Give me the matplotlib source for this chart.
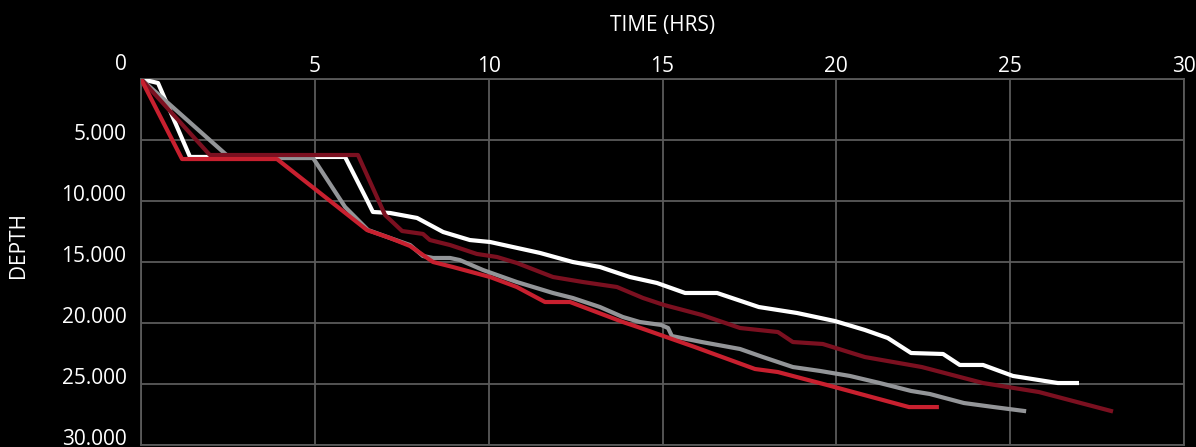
import matplotlib
matplotlib.use("Agg")
import matplotlib.pyplot as plt
from matplotlib.transforms import ScaledTranslation

# time (hrs) / depth readings per well
white_t = [0, 0.49, 1.41, 5.87, 6.50, 6.67, 7.16, 7.94, 8.69, 9.46, 10.04, 11.48, 12.42, 13.20,
           14.06, 14.84, 15.65, 16.57, 17.77, 18.87, 19.96, 20.82, 21.48, 22.15, 23.07, 23.55,
           24.22, 25.08, 26.37, 26.92]
white_d = [0, 330, 6390, 6390, 9920, 10900, 10980, 11390, 12540, 13200, 13360, 14260, 15000, 15410,
           16230, 16720, 17540, 17540, 18690, 19180, 19840, 20570, 21230, 22460, 22540, 23440,
           23440, 24340, 24920, 24920]

gray_t = [0, 2.56, 4.95, 5.87, 6.53, 7.16, 7.74, 8.11, 8.40, 8.89, 9.17, 9.84, 10.81, 11.85,
          12.42, 13.20, 13.86, 14.35, 14.96, 15.16, 15.27, 16.13, 17.23, 17.89, 18.75, 19.53,
          20.39, 21.25, 22.15, 22.69, 23.67, 24.53, 25.40]
gray_d = [0, 6480, 6480, 10490, 12380, 13030, 13610, 14510, 14670, 14670, 14840, 15660, 16640, 17540,
          17950, 18690, 19510, 19920, 20160, 20410, 21070, 21560, 22130, 22790, 23610, 23930,
          24340, 24920, 25570, 25820, 26560, 26890, 27210]

maroon_t = [0, 1.98, 6.24, 7.02, 7.51, 8.11, 8.31, 8.89, 9.66, 10.24, 10.81, 11.85, 12.71, 13.69,
            14.44, 15.04, 16.13, 17.23, 18.32, 18.75, 19.61, 20.82, 22.46, 24.22, 25.83, 27.90]
maroon_d = [0, 6230, 6230, 11150, 12460, 12700, 13200, 13610, 14340, 14590, 15080, 16230, 16640, 17050,
            17950, 18520, 19340, 20410, 20740, 21560, 21720, 22790, 23610, 24920, 25660, 27210]

red_t = [0, 1.18, 3.91, 6.50, 7.16, 7.74, 8.40, 8.97, 10.04, 10.81, 11.62, 12.34, 13.86, 14.29,
         15.93, 17.66, 18.32, 19.73, 22.09, 22.89]
red_d = [0, 6560, 6560, 12380, 13030, 13690, 15000, 15410, 16230, 17050, 18280, 18280, 19920, 20330,
         21970, 23770, 24020, 25080, 26890, 26890]

x_ticks = [0, 5, 10, 15, 20, 25, 30]
y_ticks = [0, 5000, 10000, 15000, 20000, 25000, 30000]
y_labels = ["0", "5.000", "10.000", "15.000", "20.000", "25.000", "30.000"]


def main():
    plt.rcParams['font.family'] = ['Open Sans', 'DejaVu Sans']
    fig = plt.figure(figsize=(11.96, 4.47), dpi=100, facecolor="black")
    ax = fig.add_axes([141 / 1196, 2 / 447, (1184 - 141) / 1196, (445 - 79) / 447])
    ax.set_facecolor("black")

    lw = 3.0
    ax.plot(white_t, white_d, color="#ffffff", lw=lw, zorder=3)
    ax.plot(gray_t, gray_d, color="#939598", lw=lw, zorder=4)
    ax.plot(maroon_t, maroon_d, color="#7b1020", lw=lw, zorder=5)
    ax.plot(red_t, red_d, color="#c8202f", lw=lw, zorder=6)

    ax.set_xlim(0, 30)
    ax.set_ylim(30000, 0)
    ax.set_xticks(x_ticks)
    ax.set_xticklabels(["" if t == 0 else str(t) for t in x_ticks])
    ax.set_yticks(y_ticks)
    ax.set_yticklabels(y_labels, va="baseline")

    ax.xaxis.tick_top()
    ax.xaxis.set_label_position("top")
    ax.tick_params(axis="x", length=0, pad=1.5, labelsize=15, colors="white")
    ax.tick_params(axis="y", length=0, pad=10.5, labelsize=15, colors="white")
    lab0 = ax.get_yticklabels()[0]
    lab0.set_transform(lab0.get_transform() + ScaledTranslation(0, 0.09, fig.dpi_scale_trans))

    ax.grid(True, color="#5a5a5a", lw=1.3, zorder=1)
    for s in ax.spines.values():
        s.set_color("#5a5a5a")
        s.set_linewidth(1.3)

    ax.set_xlabel("TIME (HRS)", color="white", fontsize=15, labelpad=18)
    fig.text(18 / 1196, 1 - 245 / 447, "DEPTH", color="white", fontsize=15,
             rotation=90, ha="center", va="center")

    fig.savefig("out.png", dpi=100, facecolor="black")
    plt.close(fig)


if __name__ == '__main__':
    main()
